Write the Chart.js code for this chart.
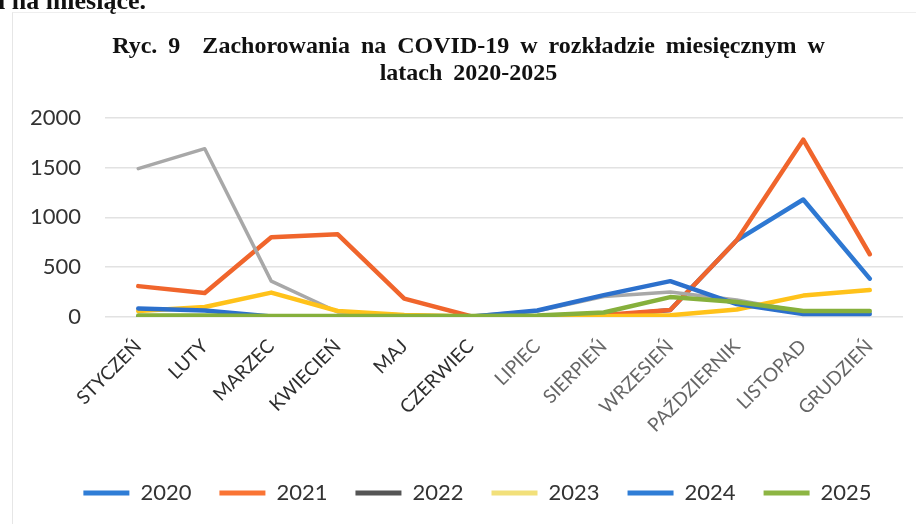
<!DOCTYPE html>
<html><head><meta charset="utf-8">
<script src="https://cdn.jsdelivr.net/npm/chart.js@4"></script>
<style>
html,body{margin:0;padding:0;background:#fff;}
#wrap{position:relative;width:916px;height:524px;overflow:hidden;background:#fff;}
#frame{position:absolute;left:12px;top:12px;right:-5px;bottom:-5px;border-left:1px solid #e6e6e6;border-top:1px solid #eeeeee;}
#cut{position:absolute;left:-2px;top:-14px;font:bold 26px 'Liberation Serif',serif;color:#111;white-space:nowrap;line-height:30px;}
canvas{position:absolute;left:0;top:0;}
</style></head><body>
<div id="wrap"><div id="frame"></div><canvas id="c" width="916" height="524"></canvas><div id="cut">i na miesiące.</div></div>
<script>
const months = ['STYCZEŃ','LUTY','MARZEC','KWIECIEŃ','MAJ','CZERWIEC','LIPIEC','SIERPIEŃ','WRZESIEŃ','PAŹDZIERNIK','LISTOPAD','GRUDZIEŃ'];
const years = ['2020','2021','2022','2023','2024','2025'];
const v2020 = [0, 0, 5, 8, 5, 3, 3, 5, 70, 770, 1180, 385];
const v2021 = [310, 240, 800, 830, 185, 8, 5, 20, 70, 770, 1780, 630];
const v2022 = [1490, 1690, 360, 50, 20, 10, 60, 205, 250, 170, 50, 50];
const v2023 = [60, 100, 245, 60, 20, 5, 5, 8, 18, 75, 215, 270];
const v2024 = [85, 65, 5, 3, 3, 3, 65, 220, 360, 130, 30, 30];
const v2025 = [15, 15, 10, 10, 10, 10, 15, 45, 200, 150, 60, 60];
const yTicks = [0, 500, 1000, 1500, 2000];

const series = [v2020, v2021, v2022, v2023, v2024, v2025];
const lineColors = ['#2E78D2', '#F0652C', '#A8A8A8', '#FFC21A', '#2C70CC', '#86B03C'];
const legendColors = ['#2F7DD6', '#FA7434', '#555555', '#F2E07A', '#2F7DD6', '#8DB543'];

const shiftBoxes = {
  id: 'shiftBoxes',
  afterLayout(chart) {
    if (chart.titleBlock) { chart.titleBlock.left += 10; chart.titleBlock.right += 10; }
    if (chart.legend) { chart.legend.left += 19; chart.legend.right += 19; }
  },
  beforeDraw(chart) { try { chart.ctx.wordSpacing = '5px'; } catch (e) {} },
  beforeDatasetsDraw(chart) { try { chart.ctx.wordSpacing = '0px'; } catch (e) {} }
};

new Chart(document.getElementById('c'), {
  type: 'line',
  data: {
    labels: months,
    datasets: series.map((d, i) => ({
      label: years[i],
      data: d,
      borderColor: lineColors[i],
      backgroundColor: lineColors[i],
      borderWidth: i === 2 ? 3.5 : 4.5,
      pointRadius: 0,
      tension: 0,
      borderJoinStyle: 'round',
      borderCapStyle: 'round',
      order: 5 - i
    }))
  },
  plugins: [shiftBoxes],
  options: {
    responsive: false,
    animation: false,
    layout: { padding: { left: 14, right: 13, top: 0, bottom: 10 } },
    plugins: {
      tooltip: { enabled: false },
      title: {
        display: true,
        text: ['Ryc. 9  Zachorowania na COVID-19 w rozkładzie miesięcznym w', 'latach 2020-2025'],
        font: { family: 'Liberation Serif', size: 24, weight: 'bold', lineHeight: 1.1 },
        color: '#111',
        padding: { top: 34, bottom: 31 }
      },
      legend: {
        position: 'bottom',
        labels: {
          font: { family: 'Lato', size: 22 },
          color: '#333',
          boxWidth: 46,
          boxHeight: 5,
          padding: 28,
          generateLabels: (chart) => chart.data.datasets.map((ds, i) => ({
            text: ds.label, fillStyle: legendColors[i], strokeStyle: legendColors[i],
            lineWidth: 0, hidden: false, datasetIndex: i, fontColor: '#333'
          }))
        }
      }
    },
    scales: {
      x: {
        offset: true,
        grid: { display: false },
        border: { display: false },
        ticks: {
          autoSkip: false, minRotation: 45, maxRotation: 45, padding: 10,
          font: { family: 'Lato', size: 19 },
          color: (c) => c.index < 6 ? '#2e2e2e' : '#666666'
        },
        afterFit: (s) => { s.height = 137; }
      },
      y: {
        min: 0, max: 2000,
        afterBuildTicks: (s) => { s.ticks = yTicks.map(v => ({ value: v })); },
        ticks: { font: { family: 'Lato', size: 22 }, color: '#333', padding: 24, callback: (v) => String(v) },
        grid: { color: '#e2e2e2', lineWidth: 1.5, drawTicks: false },
        border: { display: false },
        afterFit: (s) => { s.width = 91; }
      }
    }
  }
});
</script>
</body></html>
